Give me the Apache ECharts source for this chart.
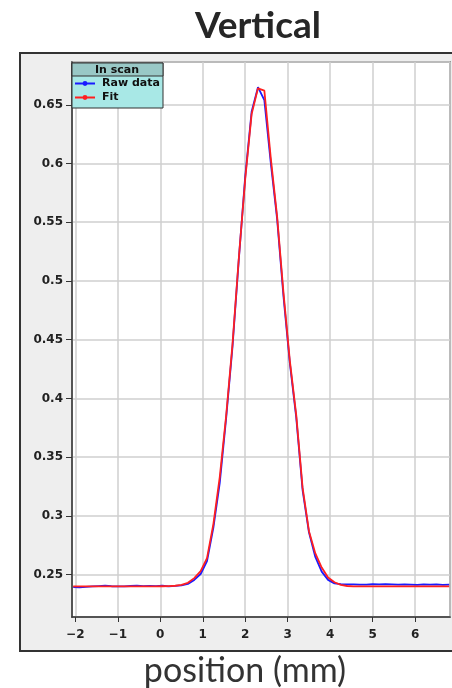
<!DOCTYPE html>
<html>
<head>
<meta charset="utf-8">
<script src="https://cdn.jsdelivr.net/npm/echarts@6/dist/echarts.min.js"></script>
<style>
  html, body { margin: 0; padding: 0; background: #fff; }
  #main { width: 452px; height: 688px; }
</style>
</head>
<body>
<div id="main"></div>
<script>
// positions along the scan (mm)
var position = [
  -2.05, -1.90, -1.75, -1.60, -1.45, -1.30, -1.15, -1.00, -0.85, -0.70,
  -0.55, -0.40, -0.25, -0.10, 0.05, 0.20, 0.35, 0.50, 0.65, 0.80,
  0.95, 1.10, 1.25, 1.40, 1.55, 1.70, 1.85, 2.00, 2.15, 2.30,
  2.45, 2.60, 2.75, 2.90, 3.05, 3.20, 3.35, 3.50, 3.65, 3.80,
  3.95, 4.10, 4.25, 4.40, 4.55, 4.70, 4.85, 5.00, 5.15, 5.30,
  5.45, 5.60, 5.75, 5.90, 6.05, 6.20, 6.35, 6.50, 6.65, 6.80
];
var rawData = [
  0.2393, 0.2392, 0.2396, 0.2399, 0.2402, 0.2405, 0.2401, 0.2400, 0.2399, 0.2403,
  0.2406, 0.2402, 0.2404, 0.2401, 0.2405, 0.2400, 0.2404, 0.2408, 0.2420, 0.2455,
  0.2505, 0.2615, 0.2900, 0.3280, 0.3830, 0.4440, 0.5190, 0.5890, 0.6440, 0.6650,
  0.6540, 0.6010, 0.5530, 0.4870, 0.4300, 0.3840, 0.3220, 0.2860, 0.2650, 0.2525,
  0.2455, 0.2425, 0.2418, 0.2416, 0.2417, 0.2414, 0.2415, 0.2418, 0.2417, 0.2418,
  0.2416, 0.2414, 0.2417, 0.2415, 0.2413, 0.2417, 0.2414, 0.2416, 0.2413, 0.2415
];
var fitData = [
  0.2400, 0.2400, 0.2400, 0.2400, 0.2400, 0.2400, 0.2400, 0.2400, 0.2400, 0.2400,
  0.2400, 0.2400, 0.2400, 0.2400, 0.2401, 0.2402, 0.2405, 0.2412, 0.2430, 0.2470,
  0.2530, 0.2640, 0.2930, 0.3330, 0.3850, 0.4460, 0.5200, 0.5870, 0.6420, 0.6640,
  0.6620, 0.6050, 0.5550, 0.4900, 0.4320, 0.3860, 0.3240, 0.2870, 0.2680, 0.2560,
  0.2475, 0.2435, 0.2412, 0.2403, 0.2400, 0.2400, 0.2400, 0.2400, 0.2400, 0.2400,
  0.2400, 0.2400, 0.2400, 0.2400, 0.2400, 0.2400, 0.2400, 0.2400, 0.2400, 0.2400
];
var legendNames = ['Raw data', 'Fit'];

function pairs(ys) {
  return position.map(function (x, i) { return [x, ys[i]]; });
}

var chartDom = document.getElementById('main');
var myChart = echarts.init(chartDom);
var option;

var labelFont = { fontFamily: 'DejaVu Sans', fontWeight: 'bold', fontSize: 12, color: '#222' };

option = {
  backgroundColor: '#fff',
  animation: false,
  title: {
    text: 'Vertical',
    left: 253,
    top: 3,
    textAlign: 'center',
    textStyle: { fontFamily: 'Lato', fontWeight: 'bold', fontSize: 37, color: '#262626' }
  },
  graphic: [
    // grey frame around the plot
    {
      type: 'rect', z: -10,
      shape: { x: 20, y: 53, width: 440, height: 598 },
      style: { fill: '#eeeeee', stroke: '#333', lineWidth: 2 }
    },
    // legend box
    {
      type: 'rect', z: 10,
      shape: { x: 72, y: 63, width: 91, height: 45 },
      style: { fill: '#a8e8e6', stroke: '#333', lineWidth: 1 }
    },
    {
      type: 'rect', z: 11,
      shape: { x: 72, y: 63, width: 91, height: 13 },
      style: { fill: '#99c8c6', stroke: '#333', lineWidth: 1 }
    },
    {
      type: 'text', z: 12, x: 117, y: 70,
      style: { text: 'In scan', fill: '#111', font: 'bold 11px "DejaVu Sans"', align: 'center', verticalAlign: 'middle' }
    },
    {
      type: 'text', z: 12, x: 245, y: 671,
      style: { text: 'position (mm)', fill: '#333', font: '34px Lato', align: 'center', verticalAlign: 'middle' }
    }
  ],
  legend: {
    data: legendNames,
    orient: 'vertical',
    left: 74,
    top: 78,
    z: 20,
    padding: 0,
    itemGap: 3,
    itemWidth: 20,
    itemHeight: 6,
    textStyle: { fontFamily: 'DejaVu Sans', fontWeight: 'bold', fontSize: 11, color: '#111', padding: [0, 0, 0, 2] }
  },
  grid: {
    left: 72,
    right: 2,
    top: 62,
    bottom: 71,
    show: true,
    backgroundColor: '#fff',
    borderColor: '#555',
    borderWidth: 1.5
  },
  xAxis: {
    type: 'value',
    min: -2.078,
    max: 6.82,
    splitNumber: 9,
    axisLine: { onZero: false, lineStyle: { color: '#333', width: 1.5 } },
    axisTick: { length: 5, lineStyle: { color: '#333' } },
    axisLabel: Object.assign({
      margin: 12,
      showMinLabel: false,
      showMaxLabel: false,
      formatter: function (v) { return String(v).replace('-', '\u2212'); }
    }, labelFont),
    splitLine: { lineStyle: { color: '#cfcfcf', width: 1.5 } }
  },
  yAxis: {
    type: 'value',
    min: 0.2139,
    max: 0.6864,
    splitNumber: 9,
    axisLine: { show: true, onZero: false, lineStyle: { color: '#333', width: 1.5 } },
    axisTick: { show: true, length: 6, lineStyle: { color: '#333' } },
    axisLabel: Object.assign({
      margin: 9,
      showMinLabel: false,
      showMaxLabel: false
    }, labelFont),
    splitLine: { lineStyle: { color: '#cfcfcf', width: 1.5 } }
  },
  series: [
    {
      name: legendNames[0],
      type: 'line',
      data: pairs(rawData),
      symbol: 'circle',
      symbolSize: 4,
      showSymbol: false,
      color: '#1a1aff',
      lineStyle: { width: 1.8, color: '#1a1aff' }
    },
    {
      name: legendNames[1],
      type: 'line',
      data: pairs(fitData),
      symbol: 'circle',
      symbolSize: 4,
      showSymbol: false,
      color: '#ff2020',
      lineStyle: { width: 1.8, color: '#ff2020' }
    }
  ]
};

option && myChart.setOption(option);
</script>
</body>
</html>
